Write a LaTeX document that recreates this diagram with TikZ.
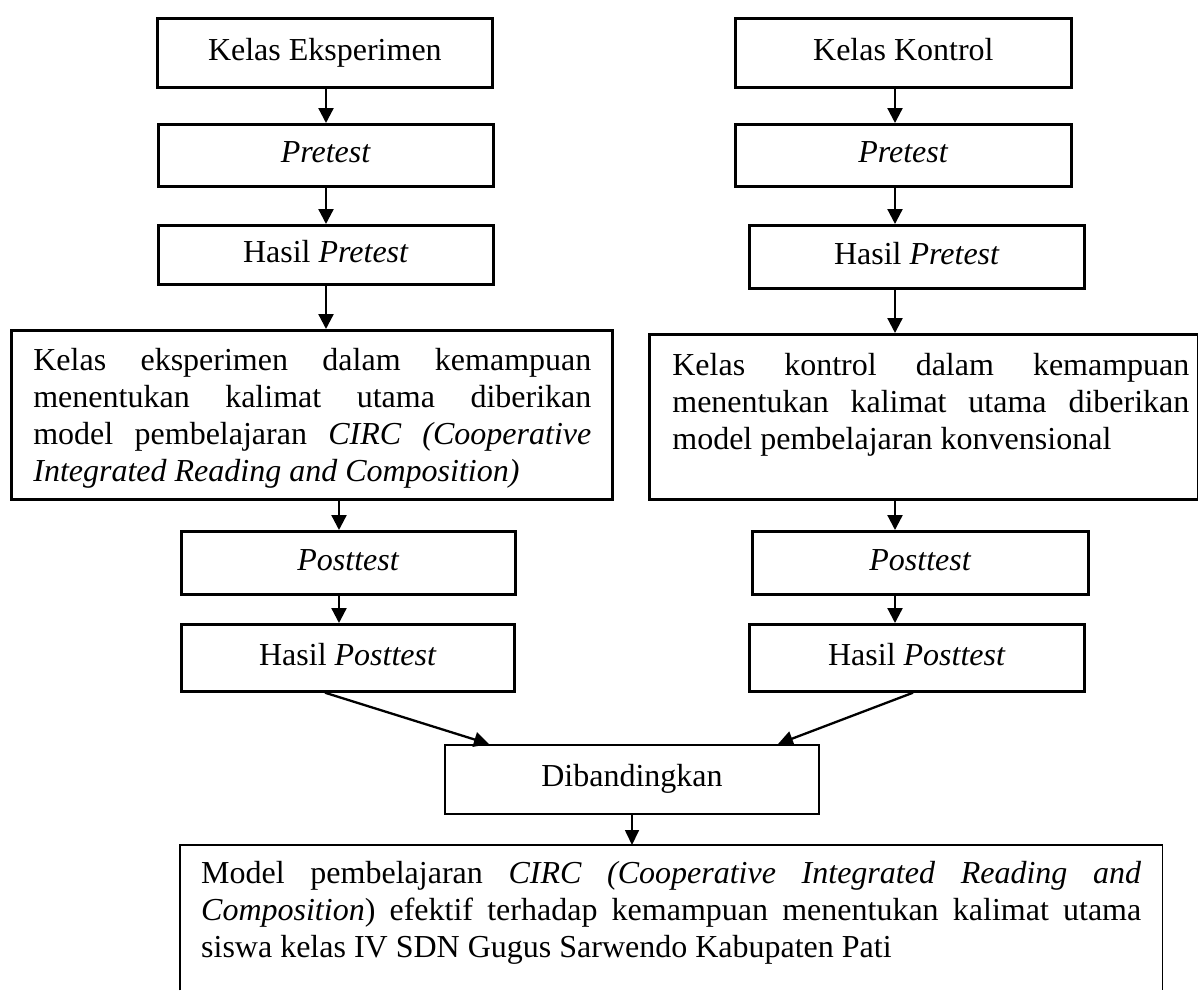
\documentclass[tikz,border=0pt]{standalone}
\usepackage{fontspec}
\setmainfont{Liberation Serif}
\usetikzlibrary{arrows.meta,calc}
\newcommand\myparbox[6]{\hspace*{#1pt}\parbox[c][#4pt][t]{#2pt}{\vspace*{#5pt}\fontsize{32}{37}\selectfont\hyphenpenalty=10000\exhyphenpenalty=10000\noindent #6}\hspace*{#3pt}}
\begin{document}
\begin{tikzpicture}[x=1pt,y=-1pt,
  every node/.style={font=\fontsize{32}{37}\selectfont},
  box/.style={draw, line width=2.7pt, inner sep=0pt, anchor=north west, text height=21.5pt, text depth=7pt},
  thinbox/.style={box, line width=2pt},
  parnode/.style={draw, line width=2.7pt, inner sep=0pt, anchor=north west},
  arr/.style={line width=2.3pt, -{Triangle[width=15pt,length=15pt]}},
  arrthin/.style={line width=1.7pt, -{Triangle[width=14pt,length=15pt]}}]
\useasboundingbox (0,0) rectangle (1198,990);
% left column
\node[box, minimum width=335pt, minimum height=69pt] (l1) at (156,17) {Kelas Eksperimen};
\node[box, minimum width=335pt, minimum height=62pt] (l2) at (157,123) {\textit{Pretest}};
\node[box, minimum width=335pt, minimum height=59pt] (l3) at (157,224) {Hasil \textit{Pretest}};
\node[parnode] (l4) at (10,329) {\myparbox{22}{558}{21}{169}{18}{Kelas eksperimen dalam kemampuan\linebreak menentukan kalimat utama diberikan\linebreak model pembelajaran \textit{CIRC (Cooperative}\linebreak \textit{Integrated Reading and Composition)}}};
\node[box, minimum width=334pt, minimum height=63pt] (l5) at (180,530) {\textit{Posttest}};
\node[box, minimum width=333pt, minimum height=67pt] (l6) at (180,623) {Hasil \textit{Posttest}};
% right column
\node[box, minimum width=336pt, minimum height=69pt] (r1) at (734,17) {Kelas Kontrol};
\node[box, minimum width=336pt, minimum height=62pt] (r2) at (734,123) {\textit{Pretest}};
\node[box, minimum width=335pt, minimum height=63pt] (r3) at (748,224) {Hasil \textit{Pretest}};
\node[parnode] (r4) at (648,333) {\myparbox{23}{517}{9}{165}{19}{Kelas kontrol dalam kemampuan\linebreak menentukan kalimat utama diberikan\linebreak model pembelajaran konvensional}};
\node[box, minimum width=336pt, minimum height=63pt] (r5) at (751,530) {\textit{Posttest}};
\node[box, minimum width=335pt, minimum height=67pt] (r6) at (748,623) {Hasil \textit{Posttest}};
% bottom
\node[thinbox, minimum width=374pt, minimum height=69pt] (dib) at (444,744) {Dibandingkan};
\node[inner sep=0pt, anchor=north west] (fin) at (180,845) {\myparbox{21}{940}{21}{145}{16}{Model pembelajaran \textit{CIRC (Cooperative Integrated Reading and}\linebreak \textit{Composition}) efektif terhadap kemampuan menentukan kalimat utama\linebreak siswa kelas IV SDN Gugus Sarwendo Kabupaten Pati}};
\draw[line width=1.3pt] (fin.south west) -- (fin.north west) -- (fin.north east) -- (fin.south east);
% arrows
\coordinate (lx) at (326,0);
\coordinate (lx2) at (339,0);
\coordinate (rx) at (895,0);
\draw[arr] (l1.south -| lx) -- (l2.north -| lx);
\draw[arr] (l2.south -| lx) -- (l3.north -| lx);
\draw[arr] (l3.south -| lx) -- (l4.north -| lx);
\draw[arr] (l4.south -| lx2) -- (l5.north -| lx2);
\draw[arr] (l5.south -| lx2) -- (l6.north -| lx2);
\draw[arr] (r1.south -| rx) -- (r2.north -| rx);
\draw[arr] (r2.south -| rx) -- (r3.north -| rx);
\draw[arr] (r3.south -| rx) -- (r4.north -| rx);
\draw[arr] (r4.south -| rx) -- (r5.north -| rx);
\draw[arr] (r5.south -| rx) -- (r6.north -| rx);
\draw[arr] ($(l6.south west)+(145,0)$) -- ($(dib.north west)+(45,0)$);
\draw[arr] ($(r6.south west)+(165,0)$) -- ($(dib.north east)+(-42,0)$);
\draw[arrthin] (dib.south) -- (dib.south |- fin.north);
\end{tikzpicture}
\end{document}
